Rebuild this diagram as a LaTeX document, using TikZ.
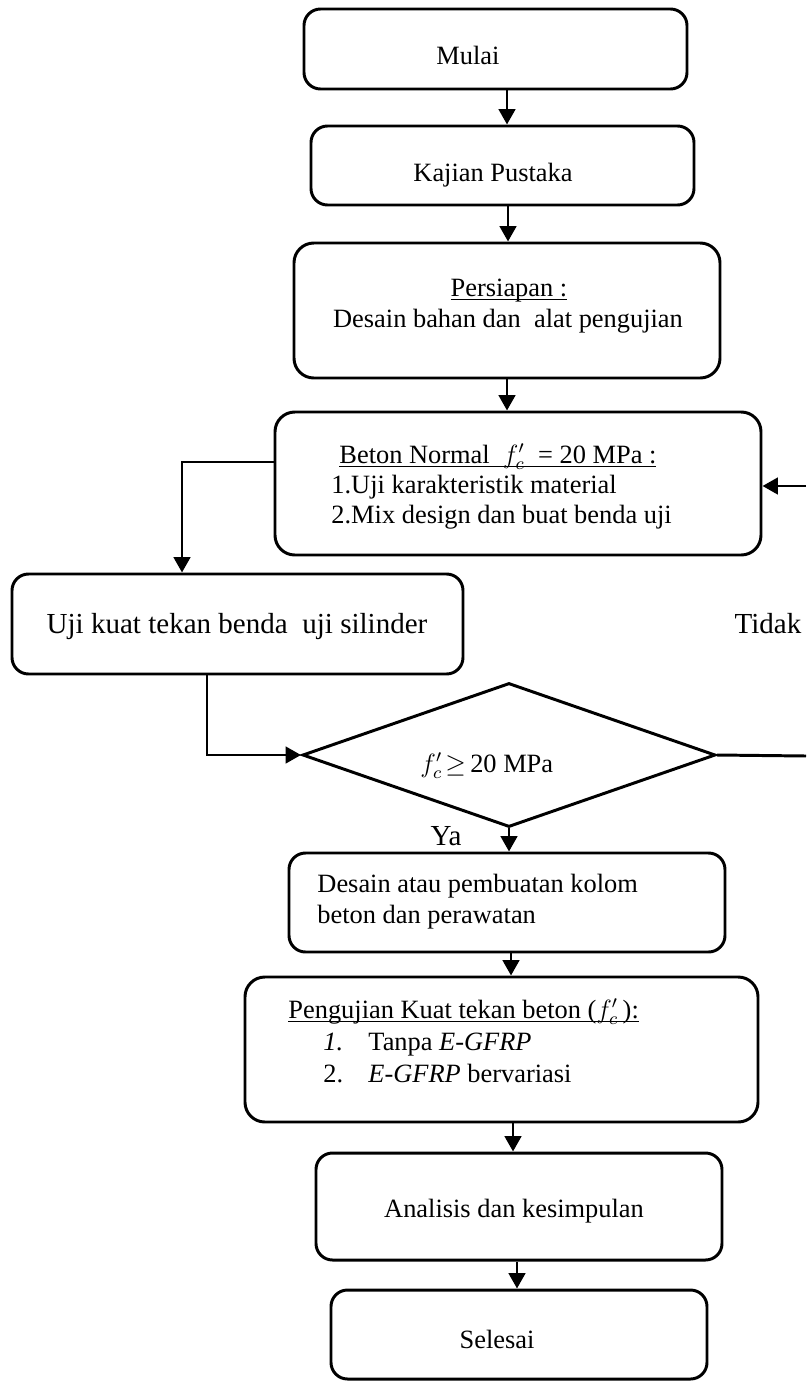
\documentclass[tikz,border=0pt]{standalone}
\usepackage{fontspec}
\setmainfont{Liberation Serif}
\usetikzlibrary{arrows.meta,shapes.geometric}
\newsavebox{\myulbox}
\newcommand{\myul}[1]{\sbox{\myulbox}{#1}\rlap{\rule[-2pt]{\wd\myulbox}{0.55pt}}\usebox{\myulbox}}
\tikzset{
  ln/.style={line width=1.35pt},
  arr/.style={ln,-{Triangle[length=7pt,width=7.5pt]}},
  box/.style={draw,line width=1.35pt,rounded corners=7.5pt,inner sep=0pt},
  txt/.style={inner sep=0pt,font=\fontsize{12}{14}\selectfont},
  big/.style={inner sep=0pt,font=\fontsize{13.2}{16}\selectfont},
  sz/.style 2 args={minimum width=#1*0.4545pt,minimum height=#2*0.4545pt},
}
\begin{document}
\begin{tikzpicture}[x=0.4545pt,y=-0.4545pt]
\useasboundingbox (0,0) rectangle (806,1382);

% boxes
\node[box,sz={383}{80}] (mulai) at (495.5,49) {};
\node[box,sz={383}{79}] (kajian) at (502.5,165.5) {};
\node[box,rounded corners=9pt,sz={426}{135}] (persiapan) at (507,310.5) {};
\node[box,rounded corners=9pt,sz={486}{143}] (beton) at (518,483.5) {};
\node[box,sz={451}{100}] (uji) at (237.5,624) {};
\node[draw,line width=1.35pt,diamond,inner sep=0pt,sz={413}{144}] (dec) at (509,755) {};
\node[box,sz={436}{99}] (desain) at (507,902.5) {};
\node[box,rounded corners=9pt,sz={513}{145}] (peng) at (501.5,1049.5) {};
\node[box,sz={406}{107}] (anal) at (519,1206.5) {};
\node[box,sz={376}{89}] (selesai) at (519,1334.5) {};

% texts
\node[txt,anchor=base] (tMulai) at (468,65) {Mulai};
\node[txt,anchor=base] (tKajian) at (493,181) {Kajian Pustaka};
\node[txt,anchor=base] (tPers1) at (509,296) {\myul{Persiapan :}};
\node[txt,anchor=base] (tPers2) at (508,327) {Desain bahan dan\ \ alat pengujian};
\node[txt,anchor=base west] (tBet1) at (339,463) {\myul{Beton Normal\ \ $f_c'$\ \ = 20 MPa :}};
\node[txt,anchor=base west] (tBet2) at (331,493) {1.Uji karakteristik material};
\node[txt,anchor=base west] (tBet3) at (331,523) {2.Mix design dan buat benda uji};
\node[big,anchor=base] (tUji) at (237,633) {Uji kuat tekan benda\ \ uji silinder};
\node[big,anchor=base] (tTidak) at (768,633) {Tidak};
\node[txt,anchor=base west] (tDec) at (420,772) {$f_c'\!\geq$\,20 MPa};
\node[big,anchor=base] (tYa) at (446,845) {Ya};
\node[txt,anchor=base west] (tDes1) at (317,892) {Desain atau pembuatan kolom};
\node[txt,anchor=base west] (tDes2) at (317,923) {beton dan perawatan};
\node[txt,anchor=base west] (tPeng1) at (288,1018) {\myul{Pengujian Kuat tekan beton ($f_c'$\,):}};
\node[txt,anchor=base west] (tPeng2a) at (323,1050) {\textit{1.}};
\node[txt,anchor=base west] (tPeng2b) at (368,1050) {Tanpa \textit{E-GFRP}};
\node[txt,anchor=base west] (tPeng3a) at (323,1082) {2.};
\node[txt,anchor=base west] (tPeng3b) at (368,1082) {\textit{E-GFRP} bervariasi};
\node[txt,anchor=base] (tAnal) at (514,1217) {Analisis dan kesimpulan};
\node[txt,anchor=base] (tSel) at (497,1348) {Selesai};

% connector columns
\coordinate (c1) at (507,0);
\coordinate (c2) at (508,0);
\coordinate (c3) at (507,0);
\coordinate (c6) at (511,0);
\coordinate (c7) at (513,0);
\coordinate (c8) at (517,0);
\coordinate (bl) at (182,462);
\coordinate (ub) at (207,755);
\coordinate (r1) at (806,756);
\coordinate (r2) at (806,486);

\draw[arr] (mulai.south -| c1) -- (kajian.north -| c1);
\draw[arr] (kajian.south -| c2) -- (persiapan.north -| c2);
\draw[arr] (persiapan.south -| c3) -- (beton.north -| c3);
\draw[arr] (beton.west |- bl) -- (bl) -- (uji.north -| bl);
\draw[arr] (uji.south -| ub) -- (ub) -- (dec.west);
\draw[arr] (dec.south) -- (desain.north -| dec.south);
\draw[arr] (desain.south -| c6) -- (peng.north -| c6);
\draw[arr] (peng.south -| c7) -- (anal.north -| c7);
\draw[arr] (anal.south -| c8) -- (selesai.north -| c8);
\draw[ln] (dec.east) -- (r1);
\draw[arr] (r2) -- (beton.east |- r2);
\end{tikzpicture}
\end{document}
